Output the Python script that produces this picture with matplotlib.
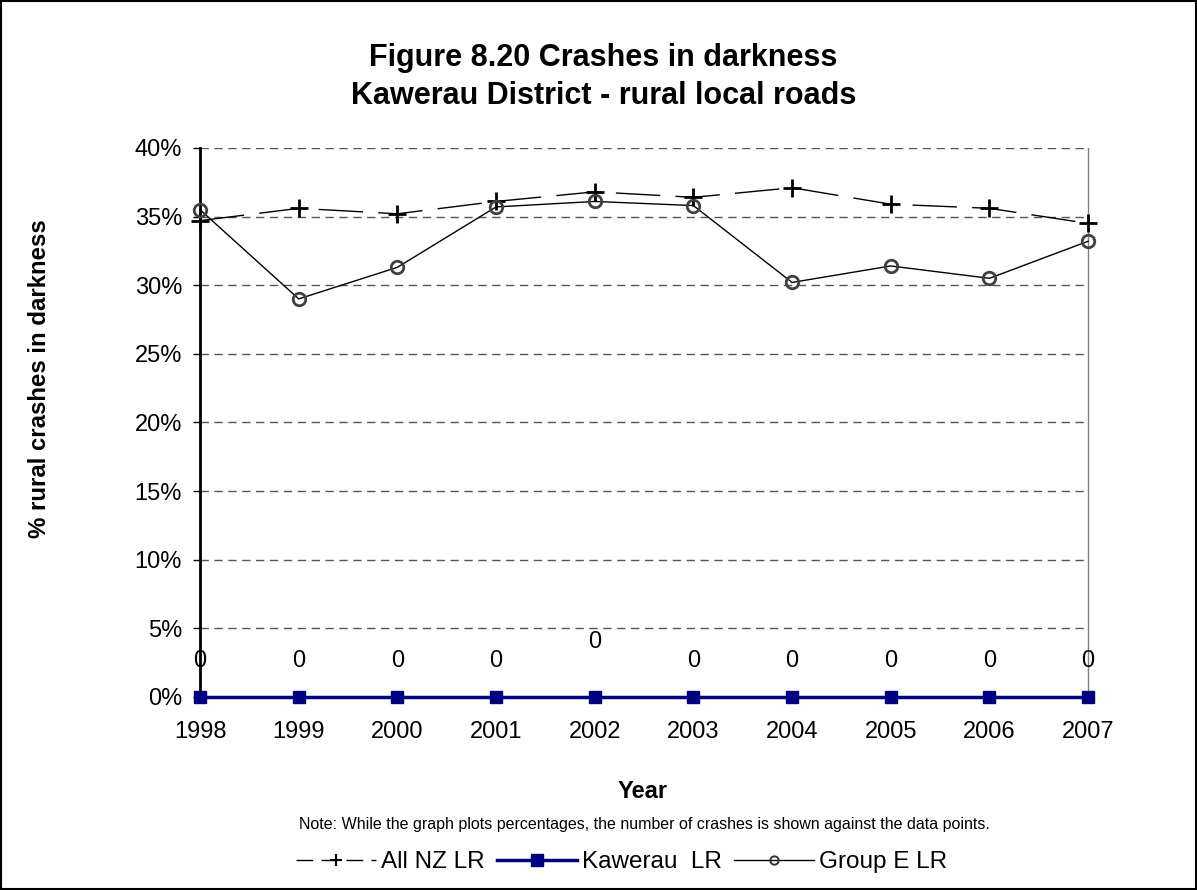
import matplotlib
matplotlib.use("Agg")
import matplotlib.pyplot as plt
from matplotlib.lines import Line2D

plt.rcParams['font.family'] = ['Liberation Sans', 'DejaVu Sans']

years = [1998, 1999, 2000, 2001, 2002, 2003, 2004, 2005, 2006, 2007]
all_nz = [34.7, 35.6, 35.2, 36.1, 36.8, 36.4, 37.1, 35.9, 35.6, 34.5]
kawerau = [0, 0, 0, 0, 0, 0, 0, 0, 0, 0]
group_e = [35.5, 29.0, 31.3, 35.7, 36.1, 35.8, 30.2, 31.4, 30.5, 33.2]
kawerau_counts = ["0", "0", "0", "0", "0", "0", "0", "0", "0", "0"]
label_offsets = [2.6, 2.6, 2.6, 2.6, 4.0, 2.6, 2.6, 2.6, 2.6, 2.6]
yticks = [0, 5, 10, 15, 20, 25, 30, 35, 40]

W, H = 1197, 890
fig = plt.figure(figsize=(W / 100, H / 100), dpi=100)
ax = fig.add_axes([0.1671, 0.2169, 0.7419, 0.6169])

x = list(range(len(years)))
ax.plot(x, all_nz, color='black', lw=1, dashes=(32, 11), marker='+', ms=13, mew=2, label='All NZ LR', zorder=3, clip_on=False)
ax.plot(x, kawerau, color='#000080', lw=2.5, marker='s', ms=9, label='Kawerau  LR', zorder=4, clip_on=False)
ax.plot(x, group_e, color='black', lw=1, marker='o', ms=9, mfc='none', mec='#404040', mew=2, label='Group E LR', zorder=3, clip_on=False)

for xi, c, off in zip(x, kawerau_counts, label_offsets):
    ax.text(xi, off, c, ha='center', va='center', fontsize=17)

ax.set_xlim(0, len(years) - 1)
ax.set_ylim(0, 40)
ax.set_yticks(yticks)
ax.set_yticklabels([f"{t}%" for t in yticks], fontsize=17)
ax.set_xticks(x)
ax.set_xticklabels([str(y) for y in years], fontsize=17)
ax.tick_params(axis='y', length=5, width=1, colors='black', pad=8)
ax.tick_params(axis='x', length=3, width=1, color='#808080', labelcolor='black', pad=14)
ax.yaxis.grid(True, linestyle=(0, (6, 4)), color='#555555', lw=1)
ax.set_axisbelow(True)
for side in ['top', 'bottom']:
    ax.spines[side].set_visible(False)
ax.spines['left'].set_linewidth(2)
ax.spines['right'].set_color('#808080')
ax.spines['right'].set_linewidth(1)

fig.text(0.504, 1 - 66 / H, "Figure 8.20 Crashes in darkness", ha='center', va='baseline',
         fontsize=22, fontweight='bold')
fig.text(0.504, 1 - 104 / H, "Kawerau District - rural local roads", ha='center', va='baseline',
         fontsize=22, fontweight='bold')
fig.text(40 / W, 1 - 379 / H, "% rural crashes in darkness", rotation=90, ha='center', va='center',
         fontsize=17.3, fontweight='bold')
fig.text(0.537, 1 - 792 / H, "Year", ha='center', va='center', fontsize=17, fontweight='bold')
fig.text(0.538, 1 - 824 / H, "Note: While the graph plots percentages, the number of crashes is shown against the data points.",
         ha='center', va='center', fontsize=11.5)

handles = [
    Line2D([], [], color='black', lw=1, dashes=(12, 6), marker='+', ms=9, mew=1.5),
    Line2D([], [], color='#000080', lw=2.5, marker='s', ms=9),
    Line2D([], [], color='black', lw=1, marker='o', ms=6, mfc='none', mec='#333333', mew=1.4),
]
fig.legend(handles, ['All NZ LR', 'Kawerau  LR', 'Group E LR'], loc='center', bbox_to_anchor=(0.519, 1 - 862 / H),
           ncol=3, frameon=False, fontsize=17.5, handlelength=3.3, handletextpad=0.2, columnspacing=0.5)

border = plt.Rectangle((0.001, 0.001), 0.998, 0.998, transform=fig.transFigure, fill=False, color='black', lw=1.5)
fig.patches.append(border)

fig.savefig("out.png", dpi=100)
